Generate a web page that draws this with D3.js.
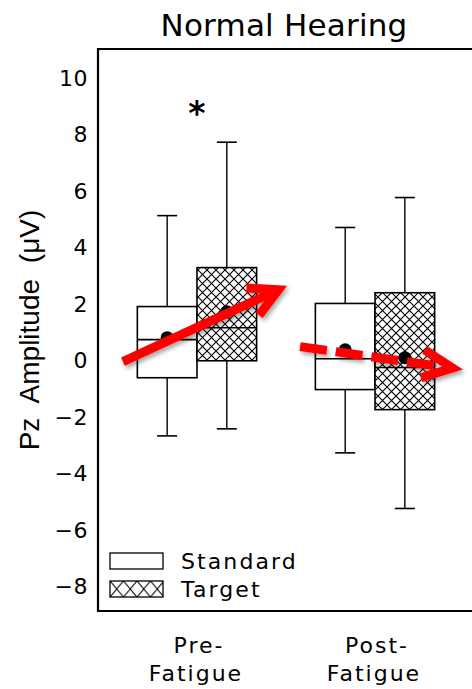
<!DOCTYPE html>
<html><head><meta charset="utf-8">
<script src="https://cdn.jsdelivr.net/npm/d3@7"></script>
<style>
html,body{margin:0;padding:0;background:#fff;}
svg{display:block;}
</style></head>
<body>
<script>
// ---- data ----
const groups = ["Pre", "Post"];
const groupLabels = [["Pre-", "Fatigue"], ["Post-", "Fatigue"]];
const series = ["Standard", "Target"];
// [whiskerLow, Q1, median, Q3, whiskerHigh, mean]
const standardStats = [
  [-2.7, -0.64, 0.71, 1.88, 5.1, 0.78],
  [-3.3, -1.06, 0.03, 1.99, 4.68, 0.35]
];
const targetStats = [
  [-2.45, -0.04, 1.13, 3.26, 7.7, 1.7],
  [-5.27, -1.77, -0.28, 2.37, 5.74, 0.07]
];
const yTicks = [-8, -6, -4, -2, 0, 2, 4, 6, 8, 10];
const yDomain = [-8.9, 11];
// arrows in data space: x as group index position, y in µV
const arrowSolid = { from: [-0.416, -0.07], to: [0.506, 2.62] };
const arrowDashed = { from: [0.579, 0.46], to: [1.494, -0.35] };
const sigMark = { group: 0, y: 8.9, text: "*" };
const title = "Normal Hearing";
const yTitle = "Pz Amplitude (\u03BCV)";

// ---- layout ----
const W = 472, H = 689;
const frame = { left: 98, right: 474, top: 49, bottom: 611 };
const svg = d3.select("body").append("svg").attr("width", W).attr("height", H);
const font = "'DejaVu Sans', sans-serif";

const y = d3.scaleLinear().domain(yDomain).range([frame.bottom, frame.top]);
const xp = d3.scalePoint().domain(groups).range([frame.left, frame.right]).padding(0.556);
const step = xp.step();
const xi = d3.scaleLinear().domain([0, 1]).range([xp(groups[0]), xp(groups[1])]);
const boxW = step * 0.335;
const capW = 20;

const defs = svg.append("defs");
function hatch(id, w, h, sw) {
  const p = defs.append("pattern").attr("id", id).attr("patternUnits", "userSpaceOnUse")
    .attr("width", w).attr("height", h);
  p.append("rect").attr("width", w).attr("height", h).attr("fill", "#fff");
  p.append("path").attr("d", `M0,0L${w},${h}M0,${h}L${w},0`)
    .attr("stroke", "#000").attr("stroke-width", sw).attr("fill", "none");
  return p;
}
hatch("hatch", 9, 9, 1.1);
const lp = hatch("hatchLegend", 13.5, 16, 1.1);
const flt = defs.append("filter").attr("id", "shadow").attr("x", "-20%").attr("y", "-40%").attr("width", "140%").attr("height", "180%");
flt.append("feDropShadow").attr("dx", 2).attr("dy", 3).attr("stdDeviation", 2)
  .attr("flood-color", "#000").attr("flood-opacity", 0.35);

// title
svg.append("text").attr("x", (frame.left + frame.right) / 2 - 2).attr("y", 36)
  .attr("text-anchor", "middle").attr("font-family", font).attr("font-size", 31)
  .attr("letter-spacing", 0.2).text(title);

// y axis tick labels (no tick marks)
const yAxis = d3.axisLeft(y).tickValues(yTicks).tickSize(0).tickPadding(0);
const gy = svg.append("g").attr("transform", `translate(${frame.left - 10},0)`).call(yAxis);
gy.select(".domain").remove();
gy.selectAll("text").attr("font-family", font).attr("font-size", 22).attr("fill", "#000")
  .attr("dy", "0.36em").attr("letter-spacing", 0.5);

// y title
svg.append("text").attr("transform", `translate(39,${330}) rotate(-90)`)
  .attr("text-anchor", "middle").attr("font-family", "'Liberation Sans', Arial, sans-serif")
  .attr("font-size", 28).attr("word-spacing", 8).text(yTitle);

// boxes
function drawBoxes(stats, offset, fill) {
  const g = svg.append("g");
  stats.forEach((s, i) => {
    const cx = xp(groups[i]) + offset * boxW / 2;
    const [lo, q1, med, q3, hi] = s;
    g.append("line").attr("x1", cx).attr("x2", cx).attr("y1", y(hi)).attr("y2", y(q3))
      .attr("stroke", "#000").attr("stroke-width", 1.4);
    g.append("line").attr("x1", cx).attr("x2", cx).attr("y1", y(q1)).attr("y2", y(lo))
      .attr("stroke", "#000").attr("stroke-width", 1.4);
    g.append("line").attr("x1", cx - capW / 2).attr("x2", cx + capW / 2).attr("y1", y(hi)).attr("y2", y(hi))
      .attr("stroke", "#000").attr("stroke-width", 1.6);
    g.append("line").attr("x1", cx - capW / 2).attr("x2", cx + capW / 2).attr("y1", y(lo)).attr("y2", y(lo))
      .attr("stroke", "#000").attr("stroke-width", 1.6);
    g.append("rect").attr("x", cx - boxW / 2).attr("y", y(q3)).attr("width", boxW).attr("height", y(q1) - y(q3))
      .attr("fill", fill).attr("stroke", "#000").attr("stroke-width", 1.6);
    g.append("line").attr("x1", cx - boxW / 2).attr("x2", cx + boxW / 2).attr("y1", y(med)).attr("y2", y(med))
      .attr("stroke", "#000").attr("stroke-width", 1.6);
  });
}
drawBoxes(standardStats, -1, "#fff");
drawBoxes(targetStats, 1, "url(#hatch)");

// mean dots
[[standardStats, -1], [targetStats, 1]].forEach(([stats, off]) => {
  svg.append("g").selectAll("circle").data(stats).join("circle")
    .attr("cx", (d, i) => xp(groups[i]) + off * boxW / 2)
    .attr("cy", d => y(d[5])).attr("r", 6.5).attr("fill", "#000");
});

// significance mark
svg.append("text").attr("x", xp(groups[sigMark.group])).attr("y", y(sigMark.y) + 17)
  .attr("text-anchor", "middle").attr("font-family", font).attr("font-size", 33)
  .attr("font-weight", "bold").text(sigMark.text);

// frame (left, top, bottom)
svg.append("path")
  .attr("d", `M${frame.right},${frame.top}H${frame.left}V${frame.bottom}H${frame.right}`)
  .attr("fill", "none").attr("stroke", "#000").attr("stroke-width", 2.2);

// legend
const lg = svg.append("g");
[["Standard", "#fff", 553, 569], ["Target", "url(#hatchLegend)", 581, 597]].forEach(([name, fill, top, base]) => {
  lg.append("rect").attr("x", 110).attr("y", top).attr("width", 53).attr("height", 16)
    .attr("fill", fill).attr("stroke", "#000").attr("stroke-width", 1.3);
  lg.append("text").attr("x", 181).attr("y", base).attr("font-family", font).attr("font-size", 22)
    .attr("letter-spacing", 2.1).text(name);
});
lp.attr("x", 110).attr("y", 581);

// x labels
groups.forEach((gname, i) => {
  const t = svg.append("text").attr("text-anchor", "middle").attr("font-family", font)
    .attr("font-size", 22).attr("letter-spacing", 2);
  t.append("tspan").attr("x", xp(gname) + 2).attr("y", 653).text(groupLabels[i][0]);
  t.append("tspan").attr("x", xp(gname) - 1).attr("y", 681).text(groupLabels[i][1]);
});

// arrows
function arrow(a, dashed, barbLen, barbAng) {
  const sw = 9;
  const x1 = xi(a.from[0]), y1 = y(a.from[1]);
  const ang = Math.atan2(y(a.to[1]) - y1, xi(a.to[0]) - x1);
  // pull the vertex back so the outer miter point lands on the target tip
  const back = (sw / 2) / Math.sin(barbAng);
  const x2 = xi(a.to[0]) - back * Math.cos(ang), y2 = y(a.to[1]) - back * Math.sin(ang);
  const g = svg.append("g").attr("filter", "url(#shadow)");
  g.append("line").attr("x1", x1).attr("y1", y1)
    .attr("x2", x2 - 4 * Math.cos(ang)).attr("y2", y2 - 4 * Math.sin(ang))
    .attr("stroke", "#ff0000").attr("stroke-width", sw)
    .attr("stroke-dasharray", dashed ? "27,9" : null);
  const b1 = [x2 - barbLen * Math.cos(ang - barbAng), y2 - barbLen * Math.sin(ang - barbAng)];
  const b2 = [x2 - barbLen * Math.cos(ang + barbAng), y2 - barbLen * Math.sin(ang + barbAng)];
  g.append("path").attr("d", `M${b1[0]},${b1[1]}L${x2},${y2}L${b2[0]},${b2[1]}`)
    .attr("fill", "none").attr("stroke", "#ff0000").attr("stroke-width", sw)
    .attr("stroke-linejoin", "miter").attr("stroke-miterlimit", 10);
}
arrow(arrowSolid, false, 32, 28 * Math.PI / 180);
arrow(arrowDashed, true, 33, 25 * Math.PI / 180);
</script>
</body></html>
